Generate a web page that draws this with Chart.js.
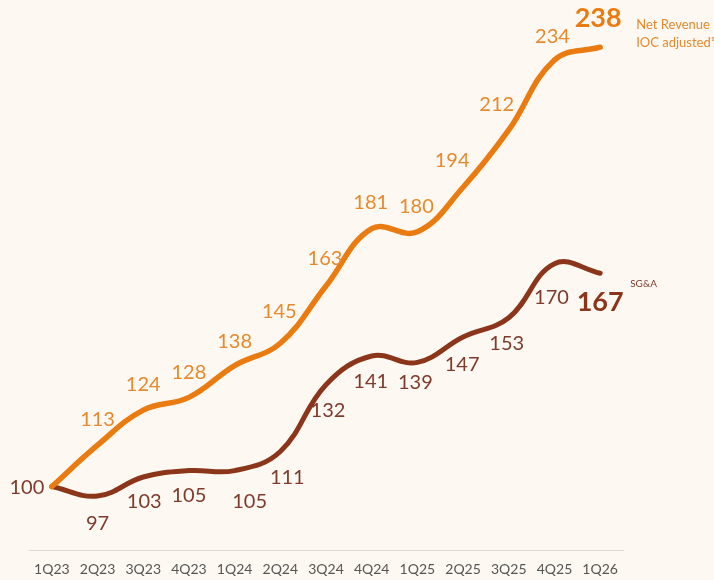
<!DOCTYPE html>
<html>
<head>
<meta charset="utf-8">
<script src="https://cdn.jsdelivr.net/npm/chart.js@4/dist/chart.umd.min.js"></script>
<style>
  html, body { margin: 0; padding: 0; background: #fdf9f2; }
  #wrap { position: relative; width: 714px; height: 580px; }
</style>
</head>
<body>
<div id="wrap"><canvas id="c" width="714" height="580"></canvas></div>
<script>
// Quarterly index, 1Q23 = 100
const quarters = ['1Q23','2Q23','3Q23','4Q23','1Q24','2Q24','3Q24','4Q24','1Q25','2Q25','3Q25','4Q25','1Q26'];
const netRevenue = [100, 113, 124, 128, 138, 145, 163, 181, 180, 194, 212, 234, 238];
const sgaValues  = [100, 97, 103, 105, 105, 111, 132, 141, 139, 147, 153, 170, 167];

// Value-label nudges relative to each point (dx, dy in px)
const revenueLabelShift = [[-25,1],[0,-26],[0,-26],[0,-25],[0,-24],[-1,-32],[-1,-27],[-1,-26],[-1,-25],[-11,-27],[-12,-25],[-2,-23],[-2,-29]];
const sgaLabelShift     = [[0,0],[0,27],[1,25],[0,25],[15,31],[7,26],[2,26],[-1,26],[-2,20],[-1,28],[-2,26],[-3,34],[0,29]];

const ORANGE = '#ea7b10';
const ORANGE_TXT = '#e7892c';
const BROWN = '#8b361a';
const BROWN_TXT = '#7e3a2a';

const valueLabels = {
  id: 'valueLabels',
  afterDatasetsDraw(chart) {
    const ctx = chart.ctx;
    ctx.save();
    ctx.textAlign = 'center';
    ctx.textBaseline = 'middle';
    const sets = [
      { idx: 0, values: netRevenue, shift: revenueLabelShift, color: ORANGE_TXT, boldColor: ORANGE },
      { idx: 1, values: sgaValues, shift: sgaLabelShift, color: BROWN_TXT, boldColor: BROWN }
    ];
    sets.forEach(s => {
      const pts = chart.getDatasetMeta(s.idx).data;
      s.values.forEach((v, i) => {
        if (s.idx === 1 && i === 0) return; // shared starting label drawn once
        const last = i === s.values.length - 1;
        const p = pts[i];
        ctx.font = last ? 'bold 27px Lato' : '20px Lato';
        let color = last ? s.boldColor : s.color;
        if (i === 0) color = BROWN_TXT;
        ctx.fillStyle = color;
        ctx.fillText(String(v), p.x + s.shift[i][0], p.y + s.shift[i][1]);
      });
    });
    // series names to the right of the last points
    const rEnd = chart.getDatasetMeta(0).data[netRevenue.length - 1];
    const sEnd = chart.getDatasetMeta(1).data[sgaValues.length - 1];
    ctx.textAlign = 'left';
    ctx.fillStyle = ORANGE_TXT;
    ctx.font = '13px Lato';
    ctx.fillText('Net Revenue', rEnd.x + 36, rEnd.y - 22);
    ctx.fillText('IOC adjusted\u00B9', rEnd.x + 36, rEnd.y - 4);
    ctx.fillStyle = BROWN_TXT;
    ctx.font = '10px Lato';
    ctx.fillText('SG&A', sEnd.x + 30, sEnd.y + 11);
    ctx.restore();
  }
};

new Chart(document.getElementById('c'), {
  type: 'line',
  data: {
    labels: quarters,
    datasets: [
      { label: 'Net Revenue IOC adjusted', data: netRevenue, borderColor: ORANGE, borderWidth: 5.5, tension: 0.4, pointRadius: 0, borderCapStyle: 'round' },
      { label: 'SG&A', data: sgaValues, borderColor: BROWN, borderWidth: 5, tension: 0.4, pointRadius: 0, borderCapStyle: 'round' }
    ]
  },
  options: {
    responsive: false,
    animation: false,
    layout: { padding: { left: 29, right: 91, top: 9, bottom: -9 } },
    plugins: { legend: { display: false }, tooltip: { enabled: false } },
    scales: {
      x: {
        offset: true,
        grid: { display: false, drawTicks: false },
        border: { display: true, color: '#dcdad6', width: 1 },
        ticks: { color: '#555', font: { family: 'Lato', size: 14 }, padding: 11, maxRotation: 0, autoSkip: false }
      },
      y: {
        display: false,
        min: 80,
        max: 250
      }
    }
  },
  plugins: [valueLabels]
});
</script>
</body>
</html>
